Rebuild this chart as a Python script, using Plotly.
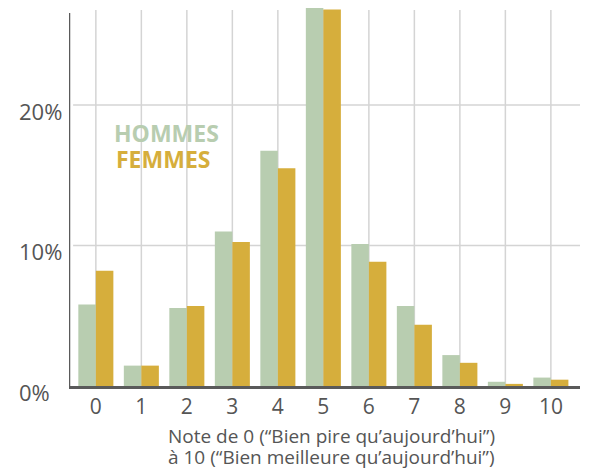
import plotly.graph_objects as go

categories = ["0", "1", "2", "3", "4", "5", "6", "7", "8", "9", "10"]
hommes = [5.8, 1.45, 5.55, 11.0, 16.75, 27.1, 10.1, 5.7, 2.2, 0.3, 0.6]
femmes = [8.2, 1.45, 5.7, 10.25, 15.5, 26.8, 8.85, 4.35, 1.65, 0.15, 0.45]
y_ticks = [0, 10, 20]
y_tick_labels = ["0%", "10%", "20%"]
title_lines = ["Note de 0 (“Bien pire qu’aujourd’hui”)",
               "à 10 (“Bien meilleure qu’aujourd’hui”)"]

GREEN = "#b8cdb0"
GOLD = "#d6ae3c"
AXIS = "#5a5a5a"
GRID = "#d4d4d4"
TEXT = "#555555"
FONT = "Open Sans"

xs = list(range(len(categories)))

fig = go.Figure()
fig.add_trace(go.Bar(x=xs, y=hommes, name="HOMMES", marker_color=GREEN,
                     marker_line_width=0))
fig.add_trace(go.Bar(x=xs, y=femmes, name="FEMMES", marker_color=GOLD,
                     marker_line_width=0))

shapes = []
for x in xs:
    shapes.append(dict(type="line", xref="x", yref="y", x0=x, x1=x, y0=0, y1=26.76,
                       line=dict(color=GRID, width=1.5), layer="below"))
for t in y_ticks[1:]:
    shapes.append(dict(type="line", xref="x", yref="y", x0=-0.5, x1=10.64, y0=t, y1=t,
                       line=dict(color=GRID, width=1.5), layer="below"))
shapes.append(dict(type="line", xref="x", yref="y", x0=-0.59, x1=-0.59, y0=-0.05, y1=26.55,
                   line=dict(color=AXIS, width=2.5), layer="above"))

annotations = []
for t, lab in zip(y_ticks, y_tick_labels):
    annotations.append(dict(x=0, xref="paper", y=t, yref="y", text=lab, showarrow=False,
                            xanchor="left", yanchor="middle", xshift=-52, yshift=-6,
                            font=dict(family=FONT, size=22, color=TEXT)))
annotations.append(dict(x=1.545, xref="x", y=18.0, yref="y", text="<b>HOMMES</b>", showarrow=False,
                        xanchor="center", yanchor="middle",
                        font=dict(family=FONT, size=23, color=GREEN)))
annotations.append(dict(x=1.48, xref="x", y=16.15, yref="y", text="<b>FEMMES</b>", showarrow=False,
                        xanchor="center", yanchor="middle",
                        font=dict(family=FONT, size=23, color=GOLD)))
for ty, line in zip([-0.133, -0.188], title_lines):
    annotations.append(dict(x=0.513, xref="paper", y=ty, yref="paper", text=line,
                            showarrow=False, xanchor="center", yanchor="middle",
                            font=dict(family=FONT, size=19, color=TEXT)))

fig.update_layout(
    width=581, height=463,
    margin=dict(l=61, r=9, t=0, b=85),
    paper_bgcolor="white", plot_bgcolor="white",
    barmode="group", bargap=0.23, bargroupgap=0,
    showlegend=False,
    shapes=shapes, annotations=annotations,
    xaxis=dict(range=[-0.59, 10.64], tickmode="array", tickvals=xs, ticktext=categories,
               showgrid=False, zeroline=False, showline=True, linecolor=AXIS, linewidth=2.5,
               ticks="", ticklabelstandoff=0,
               tickfont=dict(family=FONT, size=21, color=TEXT)),
    yaxis=dict(range=[0, 26.9], showgrid=False, zeroline=False, showline=False,
               showticklabels=False, ticks=""),
)

fig.write_html("out.html")
